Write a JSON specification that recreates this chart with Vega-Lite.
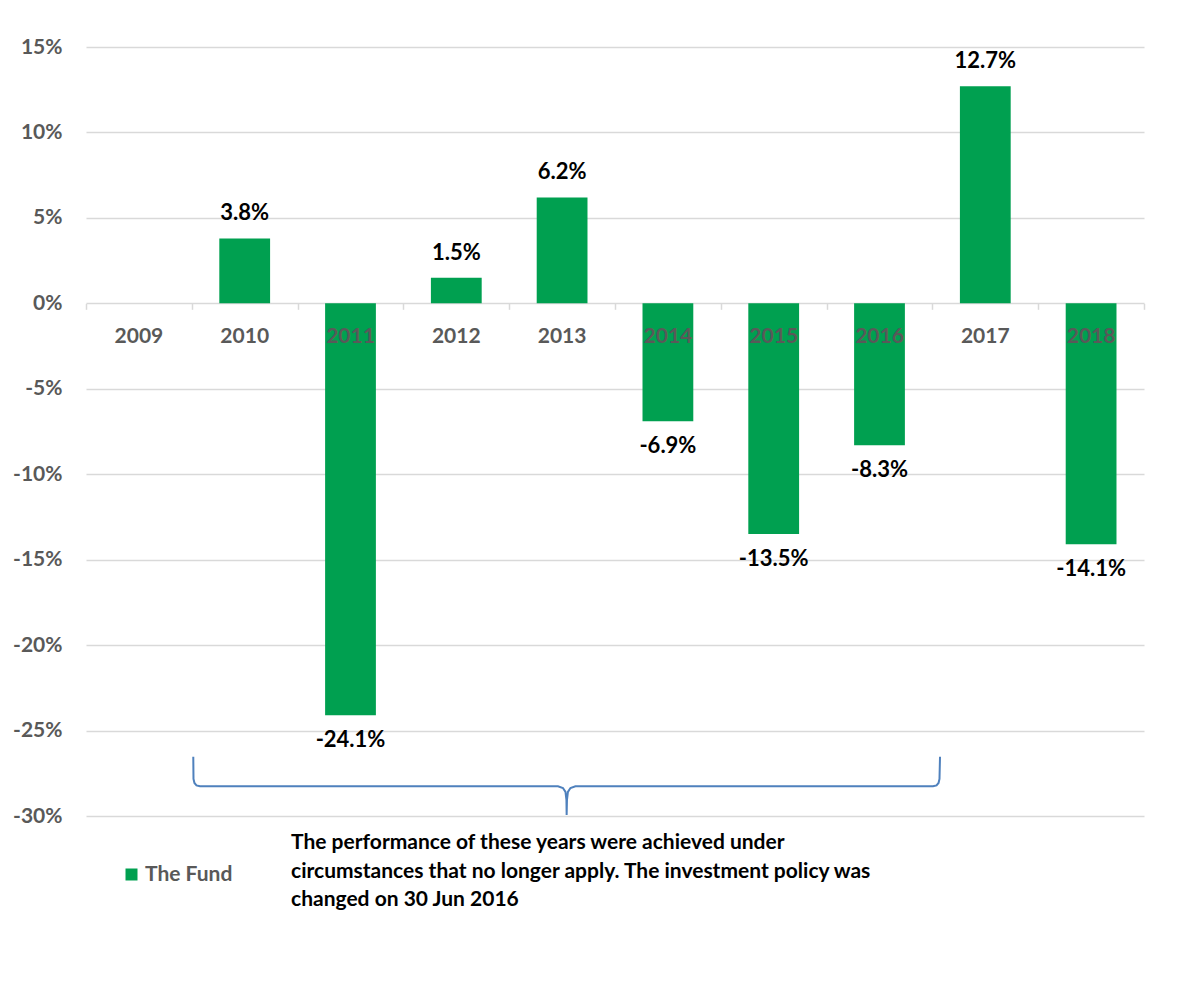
{
  "$schema": "https://vega.github.io/schema/vega-lite/v6.json",
  "width": 1058,
  "height": 769,
  "autosize": "none",
  "padding": {"left": 86, "top": 47, "right": 52, "bottom": 187},
  "background": "white",
  "config": {"view": {"stroke": null}, "font": "Lato"},
  "datasets": {
    "fund": [
      {"year": "2010", "value": 3.8, "label": "3.8%"},
      {"year": "2011", "value": -24.1, "label": "-24.1%"},
      {"year": "2012", "value": 1.5, "label": "1.5%"},
      {"year": "2013", "value": 6.2, "label": "6.2%"},
      {"year": "2014", "value": -6.9, "label": "-6.9%"},
      {"year": "2015", "value": -13.5, "label": "-13.5%"},
      {"year": "2016", "value": -8.3, "label": "-8.3%"},
      {"year": "2017", "value": 12.7, "label": "12.7%"},
      {"year": "2018", "value": -14.1, "label": "-14.1%"}
    ],
    "brace": [
      {"i": 1, "bx": 1.014, "by": -26.53},
      {"i": 2, "bx": 1.016, "by": -27.83},
      {"i": 3, "bx": 1.025, "by": -28.07},
      {"i": 4, "bx": 1.044, "by": -28.21},
      {"i": 5, "bx": 1.077, "by": -28.26},
      {"i": 6, "bx": 4.461, "by": -28.26},
      {"i": 7, "bx": 4.508, "by": -28.36},
      {"i": 8, "bx": 4.532, "by": -28.59},
      {"i": 9, "bx": 4.541, "by": -29.06},
      {"i": 10, "bx": 4.543, "by": -29.94},
      {"i": 11, "bx": 4.546, "by": -29.06},
      {"i": 12, "bx": 4.555, "by": -28.59},
      {"i": 13, "bx": 4.579, "by": -28.36},
      {"i": 14, "bx": 4.626, "by": -28.26},
      {"i": 15, "bx": 8.006, "by": -28.26},
      {"i": 16, "bx": 8.039, "by": -28.21},
      {"i": 17, "bx": 8.058, "by": -28.07},
      {"i": 18, "bx": 8.067, "by": -27.83},
      {"i": 19, "bx": 8.072, "by": -26.53}
    ],
    "note": [
      {"nx": 1.938, "ny": -31.58, "text": "The performance of these years were achieved under\ncircumstances that no longer apply. The investment policy was\nchanged on 30 Jun 2016"}
    ]
  },
  "layer": [
    {
      "data": {"name": "fund"},
      "encoding": {
        "x": {
          "field": "year",
          "type": "nominal",
          "sort": null,
          "scale": {"domain": ["2009", "2010", "2011", "2012", "2013", "2014", "2015", "2016", "2017", "2018"], "paddingInner": 0.52, "paddingOuter": 0.26},
          "axis": {
            "title": null,
            "orient": "bottom",
            "offset": -512.7,
            "domain": false,
            "ticks": false,
            "tickSize": 0,
            "grid": false,
            "labelAngle": 0,
            "labelBaseline": "middle",
            "labelPadding": 33,
            "labelFont": "Lato",
            "labelFontSize": 21,
            "labelFontWeight": "bold",
            "labelColor": "#595959",
            "zindex": 2
          }
        },
        "y": {
          "field": "value",
          "type": "quantitative",
          "scale": {"domain": [-30, 15], "nice": false},
          "axis": {
            "title": null,
            "values": [-30, -25, -20, -15, -10, -5, 0, 5, 10, 15],
            "labelExpr": "datum.value + '%'",
            "domain": false,
            "ticks": false,
            "tickSize": 0,
            "grid": true,
            "gridColor": "#d9d9d9",
            "gridWidth": 1.5,
            "labelPadding": 24,
            "labelFont": "Lato",
            "labelFontSize": 21,
            "labelFontWeight": "bold",
            "labelColor": "#595959"
          }
        }
      },
      "layer": [
        {
          "mark": {"type": "bar"},
          "encoding": {
            "color": {
              "datum": "The Fund",
              "type": "nominal",
              "scale": {"range": ["#00A050"]},
              "legend": {
                "orient": "none",
                "legendX": 35,
                "legendY": 817,
                "title": null,
                "padding": 0,
                "symbolType": "square",
                "symbolSize": 144,
                "symbolStrokeWidth": 0,
                "labelFont": "Lato",
                "labelFontSize": 21,
                "labelFontWeight": "bold",
                "labelColor": "#595959",
                "labelOffset": 3
              }
            }
          }
        },
        {
          "transform": [{"filter": "datum.value >= 0"}],
          "mark": {"type": "text", "baseline": "middle", "dy": -25, "font": "Lato", "fontSize": 22, "fontWeight": "bold", "color": "#000000"},
          "encoding": {"text": {"field": "label"}}
        },
        {
          "transform": [{"filter": "datum.value < 0"}],
          "mark": {"type": "text", "baseline": "middle", "dy": 25, "font": "Lato", "fontSize": 22, "fontWeight": "bold", "color": "#000000"},
          "encoding": {"text": {"field": "label"}}
        }
      ]
    },
    {
      "layer": [
        {
          "data": {"name": "brace"},
          "mark": {"type": "line", "color": "#4f81bd", "strokeWidth": 2},
          "encoding": {
            "x": {
              "field": "bx",
              "type": "quantitative",
              "scale": {"domain": [0, 10], "nice": false, "zero": false},
              "axis": {
                "title": null,
                "orient": "bottom",
                "offset": -512.7,
                "values": [0, 1, 2, 3, 4, 5, 6, 7, 8, 9, 10],
                "labels": false,
                "domain": false,
                "grid": false,
                "ticks": true,
                "tickSize": 6,
                "tickColor": "#d9d9d9",
                "tickWidth": 1.5
              }
            },
            "y": {"field": "by", "type": "quantitative", "scale": {"domain": [-30, 15], "nice": false}},
            "order": {"field": "i", "type": "quantitative"}
          }
        },
        {
          "data": {"name": "note"},
          "mark": {"type": "text", "align": "left", "baseline": "middle", "lineBreak": "\n", "lineHeight": 28.5, "font": "Lato", "fontSize": 21, "fontWeight": "bold", "color": "#000000"},
          "encoding": {
            "x": {"field": "nx", "type": "quantitative", "scale": {"domain": [0, 10], "nice": false, "zero": false}},
            "y": {"field": "ny", "type": "quantitative", "scale": {"domain": [-30, 15], "nice": false}},
            "text": {"field": "text"}
          }
        }
      ]
    }
  ],
  "resolve": {"scale": {"x": "independent"}, "axis": {"x": "independent"}}
}
